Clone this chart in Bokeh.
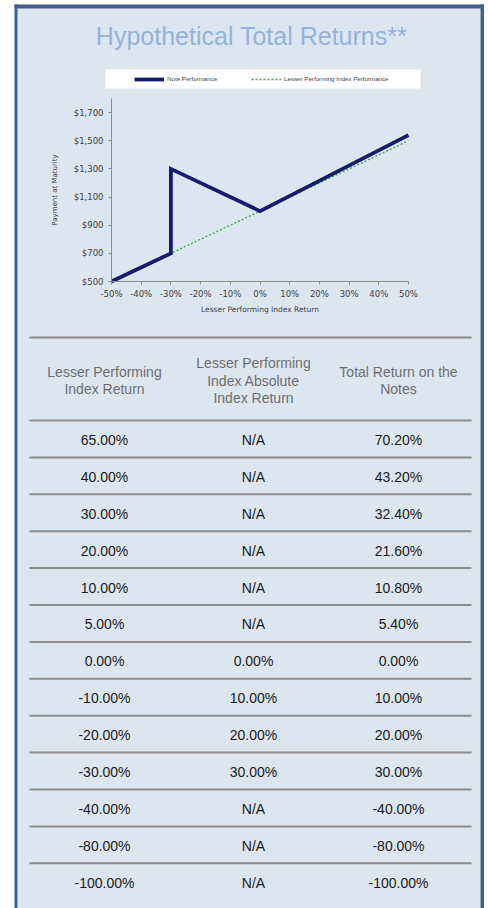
from bokeh.plotting import figure
from bokeh.models import (Range1d, Legend, LegendItem, FixedTicker, NumeralTickFormatter,
                          ColumnDataSource)
from bokeh.core.properties import value
from bokeh.embed import file_html
from bokeh.resources import INLINE

# ---------------- data ----------------
title_text = "Hypothetical Total Returns**"

# chart: payment at maturity vs lesser performing index return
note_x = [-0.50, -0.30, -0.30, 0.00, 0.50]
note_y = [500, 700, 1300, 1000, 1540]
index_x = [-0.50, 0.50]
index_y = [500, 1500]
x_lim = (-0.5, 0.5)
y_lim = (500, 1800)
x_ticks = [-0.5, -0.4, -0.3, -0.2, -0.1, 0.0, 0.1, 0.2, 0.3, 0.4, 0.5]
y_ticks = [500, 700, 900, 1100, 1300, 1500, 1700]
series_names = ["Note Performance", "Lesser Performing Index Performance"]
x_label = "Lesser Performing Index Return"
y_label = "Payment at Maturity"

# table
headers = [["Lesser Performing", "Index Return"],
           ["Lesser Performing", "Index Absolute", "Index Return"],
           ["Total Return on the", "Notes"]]
col_index_return = ["65.00%", "40.00%", "30.00%", "20.00%", "10.00%", "5.00%", "0.00%",
                    "-10.00%", "-20.00%", "-30.00%", "-40.00%", "-80.00%", "-100.00%"]
col_abs_return = ["N/A", "N/A", "N/A", "N/A", "N/A", "N/A", "0.00%",
                  "10.00%", "20.00%", "30.00%", "N/A", "N/A", "N/A"]
col_total_return = ["70.20%", "43.20%", "32.40%", "21.60%", "10.80%", "5.40%", "0.00%",
                    "10.00%", "20.00%", "30.00%", "-40.00%", "-80.00%", "-100.00%"]

# ---------------- styles / layout (pixels) ----------------
BG = "#dce6f1"
BORDER = "#3f5f8c"
TITLE_C = "#95b3d7"
NAVY = "#161c6c"
GREEN = "#3ea53e"
AXIS_C = "#8c8c8c"
TICK_C = "#404040"
RULE_C = "#8c8c8c"
HEAD_C = "#6e6e6e"
CELL_C = "#1a1a1a"
FONT = "Liberation Sans"

CW, CH = 484, 908
# where the chart's plotting area lies on the canvas
CX0, CX1 = 111, 408      # x_lim[0], x_lim[1]
CY0, CY1 = 281, 98       # y_lim[0], y_lim[1]
x_per_px = (x_lim[1] - x_lim[0]) / (CX1 - CX0)
y_per_px = (y_lim[1] - y_lim[0]) / (CY0 - CY1)
x_range = Range1d(x_lim[0] - CX0 * x_per_px, x_lim[0] + (CW - CX0) * x_per_px)
y_range = Range1d(y_lim[0] - (CH - CY0) * y_per_px, y_lim[1] + CY1 * y_per_px)

p = figure(width=CW, height=CH, x_range=x_range, y_range=y_range,
           output_backend="svg", toolbar_location=None, min_border=0,
           background_fill_color="white", border_fill_color="white",
           outline_line_color=None)
p.grid.visible = False
p.extra_x_ranges = {"px": Range1d(0, CW)}
p.extra_y_ranges = {"px": Range1d(CH, 0)}
PX = dict(x_range_name="px", y_range_name="px")

# ---- framed panel ----
p.quad(left=[17], right=[480], top=[8], bottom=[CH], fill_color=BG, line_color=None, **PX)
p.quad(left=[14, 480, 14], right=[17, 484, 484], top=[4, 4, 4], bottom=[CH, CH, 8],
       fill_color=BORDER, line_color=None, **PX)

# ---- title ----
p.text(x=[251], y=[35], text=[title_text], text_font=value(FONT), text_font_size="25px",
       text_color=TITLE_C, text_align="center", text_baseline="middle", **PX)

# ---- legend box ----
p.quad(left=[105], right=[420], top=[69], bottom=[88], fill_color="white",
       line_color=None, **PX)

# ---- chart ----
r_idx = p.line(index_x, index_y, line_color=GREEN, line_width=1.3, line_dash="2 2")
r_note = p.line(note_x, note_y, line_color=NAVY, line_width=3.8, line_join="miter")

p.xaxis.ticker = FixedTicker(ticks=x_ticks)
p.yaxis.ticker = FixedTicker(ticks=y_ticks)
p.xaxis.formatter = NumeralTickFormatter(format="0%")
p.yaxis.formatter = NumeralTickFormatter(format="$0,0")
p.xaxis.bounds = x_lim
p.yaxis.bounds = y_lim
p.xaxis.fixed_location = y_lim[0]
p.yaxis.fixed_location = x_lim[0]
for ax in (p.xaxis, p.yaxis):
    ax.axis_line_color = AXIS_C
    ax.major_tick_line_color = AXIS_C
    ax.minor_tick_line_color = None
    ax.major_tick_in = 0
    ax.major_tick_out = 3
    ax.major_label_text_font = "DejaVu Sans"
    ax.major_label_text_font_size = "8.5px"
    ax.major_label_text_color = TICK_C
    ax.axis_label_text_font = "DejaVu Sans"
    ax.axis_label_text_font_style = "normal"
    ax.axis_label_text_color = TICK_C
p.xaxis.axis_label = x_label
p.yaxis.axis_label = y_label
p.xaxis.axis_label_text_font_size = "7.5px"
p.yaxis.axis_label_text_font_size = "7px"
p.xaxis.major_label_standoff = 4
p.yaxis.major_label_standoff = 5
p.xaxis.axis_label_standoff = 3
p.yaxis.axis_label_standoff = 12

legend = Legend(items=[LegendItem(label=series_names[0], renderers=[r_note]),
                       LegendItem(label=series_names[1], renderers=[r_idx])],
                orientation="horizontal", location=(134, CH - 82),
                background_fill_alpha=0.0, border_line_color=None,
                label_text_font=FONT, label_text_font_size="6.2px",
                label_text_color="#444444", glyph_width=30, glyph_height=6,
                label_standoff=3, spacing=6, padding=6, label_width=78, margin=0)
p.add_layout(legend, "center")

# ---- table ----
col_x = [104, 253, 398]          # column centres
rule_x0, rule_x1 = 29, 471
top_rule = 337
body_top = 420
row_h = 36.9
head_mid = 380
head_lh = 17.5

n_rows = len(col_index_return)
rule_ys = [top_rule] + [body_top + row_h * k for k in range(n_rows)]
p.segment(x0=[rule_x0] * len(rule_ys), x1=[rule_x1] * len(rule_ys), y0=rule_ys, y1=rule_ys,
          line_color=RULE_C, line_width=2, **PX)

hx, hy, ht = [], [], []
for ci, lines in enumerate(headers):
    n = len(lines)
    for li, t in enumerate(lines):
        hx.append(col_x[ci])
        hy.append(head_mid + (li - (n - 1) / 2) * head_lh)
        ht.append(t)
p.text(x="x", y="y", text="t", source=ColumnDataSource(dict(x=hx, y=hy, t=ht)),
       text_font=value(FONT), text_font_size="14px", text_color=HEAD_C,
       text_align="center", text_baseline="middle", **PX)

cx, cy, ct = [], [], []
for ci, col in enumerate([col_index_return, col_abs_return, col_total_return]):
    for ri, t in enumerate(col):
        cx.append(col_x[ci])
        cy.append(body_top + row_h * (ri + 0.5) + 1)
        ct.append(t)
p.text(x="x", y="y", text="t", source=ColumnDataSource(dict(x=cx, y=cy, t=ct)),
       text_font=value(FONT), text_font_size="14px", text_color=CELL_C,
       text_align="center", text_baseline="middle", **PX)

open("out.html", "w").write(file_html(p, INLINE))
